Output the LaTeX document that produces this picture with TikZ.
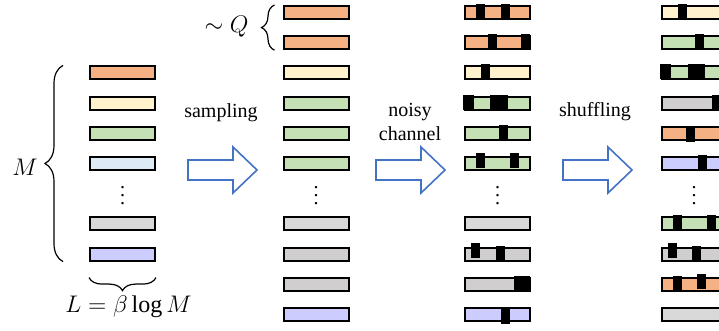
\documentclass[tikz,border=0pt]{standalone}
\usepackage{fontspec}
\setmainfont{Liberation Serif}
\usetikzlibrary{calc,decorations.pathreplacing}

\definecolor{stripor}{HTML}{F4B183}
\definecolor{stripcr}{HTML}{FFF2CC}
\definecolor{stripgr}{HTML}{C5E0B4}
\definecolor{stripbl}{HTML}{DEEBF7}
\definecolor{stripgy}{HTML}{D9D9D9}
\definecolor{stripgz}{HTML}{D0CECE}
\definecolor{strippu}{HTML}{CCCCFF}
\definecolor{arrowblue}{HTML}{4472C4}

% black error block on a strip: node, offset, width, lift
\newcommand{\noiseblk}[4]{\fill ($(#1.north west)+(#2-1,-1-#4)$) rectangle ++(#3,15);}

\begin{document}
\begin{tikzpicture}[x=0.5pt,y=-0.5pt]
    \tikzstyle{strip}=[draw, line width=1pt, inner sep=0pt, minimum width=32.5pt, minimum height=6.5pt]
    \tikzstyle{bigarrow}=[draw=arrowblue, line width=0.8pt, fill=white]
    \tikzstyle{curly}=[decorate, line width=0.6pt]

    \clip (0,0) rectangle (719,331);

    % original set
    \foreach \k/\col in {3/stripor,4/stripcr,5/stripgr,6/stripbl,8/stripgy,9/strippu}
        \node[strip, fill=\col] (s1-\k) at (122.5,{12.5+30.2*(\k-1)}) {};
    % sampled
    \foreach \k/\col in {1/stripor,2/stripor,3/stripcr,4/stripgr,5/stripgr,6/stripgr,8/stripgy,9/stripgz,10/stripgz,11/strippu}
        \node[strip, fill=\col] (s2-\k) at (316,{12.5+30.2*(\k-1)}) {};
    % after the channel
    \foreach \k/\col in {1/stripor,2/stripor,3/stripcr,4/stripgr,5/stripgr,6/stripgr,8/stripgy,9/stripgz,10/stripgz,11/strippu}
        \node[strip, fill=\col] (s3-\k) at (497.5,{12.5+30.2*(\k-1)}) {};
    % shuffled
    \foreach \k/\col in {1/stripcr,2/stripgr,3/stripgr,4/stripgz,5/stripor,6/strippu,8/stripgr,9/stripgz,10/stripor,11/stripgy}
        \node[strip, fill=\col] (s4-\k) at (694,{12.5+30.2*(\k-1)}) {};

    \foreach \n/\o/\w/\u in {s3-1/13/8.5/0, s3-1/38/9/0, s3-2/25/9/0, s3-2/58/9/0,
        s3-3/18/9/0, s3-4/0/11/0, s3-4/27/18/0, s3-5/36/9/0, s3-6/13/9/2, s3-6/47/9/2,
        s3-9/8/9/3, s3-9/33/9/0, s3-10/51/16/0, s3-11/38/9/-3,
        s4-1/18/9/0, s4-2/35/9/0, s4-3/0/11/0, s4-3/28/17/0, s4-4/52/15/0,
        s4-5/26/9/-2, s4-6/38/9/0, s4-8/13/9/0, s4-8/47/9/0, s4-9/8/9/3,
        s4-9/32/9/0, s4-10/13/9/0, s4-10/37/9/2}
        {\noiseblk{\n}{\o}{\w}{\u}}

    \node (d1) at (122.5,190) {$\vdots$};
    \node (d2) at (316,190) {$\vdots$};
    \node (d3) at (497.5,190) {$\vdots$};
    \node (d4) at (694,190) {$\vdots$};

    % arrows
    \coordinate (a1) at (188,170);
    \coordinate (a2) at (376,170);
    \coordinate (a3) at (563,170);
    \foreach \a in {a1,a2,a3}
        \draw[bigarrow] (\a) ++(0,-10) -- ++(45,0) -- ++(0,-13) -- ++(24,23)
            -- ++(-24,23) -- ++(0,-13) -- ++(-45,0) -- cycle;

    \node (lsamp) at (221,113) {sampling};
    \node[align=center] (lnoisy) at (410,121.5) {noisy\\channel};
    \node (lshuf) at (595,112) {shuffling};

    % braces
    \draw[curly, decoration={brace, amplitude=9pt}]
        ($(s1-9.south west)+(-26,0)$) -- ($(s1-3.north west)+(-26,0)$);
    \node (lM) at (25,167) {\large $M$};
    \draw[curly, decoration={brace, amplitude=6.5pt}]
        ($(s1-9.south east)+(0,16)$) -- ($(s1-9.south west)+(0,16)$);
    \node (lL) at (128.5,307) {\large $L=\beta\log M$};
    \draw[curly, decoration={brace, amplitude=6.5pt}]
        ($(s2-2.south west)+(-8,0)$) -- ($(s2-1.north west)+(-8,0)$);
    \node (lQ) at (226.5,27) {\large $\sim Q$};
\end{tikzpicture}
\end{document}
